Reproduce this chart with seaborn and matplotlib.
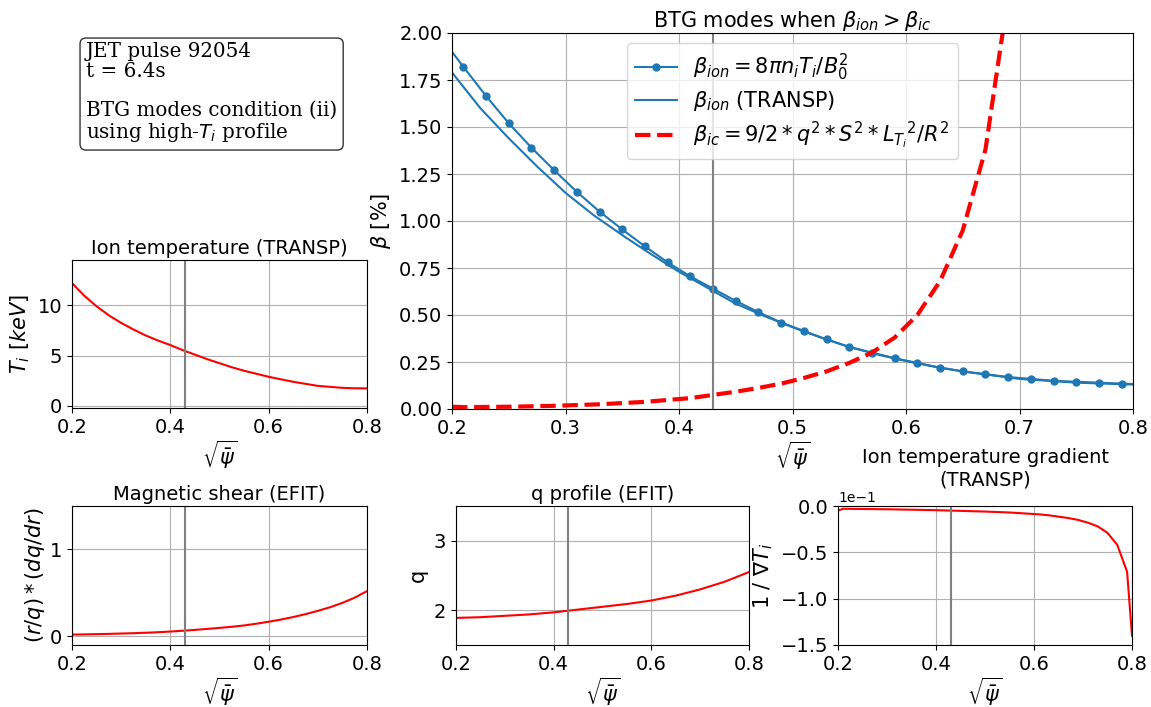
import numpy as np
import pandas as pd
import matplotlib
matplotlib.use("Agg")
import matplotlib.pyplot as plt
import seaborn as sns

plt.rcParams['font.size'] = 14
plt.rcParams['axes.titlesize'] = 14
plt.rcParams['axes.labelsize'] = 15
plt.rcParams['legend.fontsize'] = 15

# beta_ion from 8*pi*n*T/B0^2 (markers on the inner points)
beta_x = [0.20, 0.21, 0.23, 0.25, 0.27, 0.29, 0.31, 0.33, 0.35, 0.37, 0.39, 0.41,
          0.43, 0.45, 0.47, 0.49, 0.51, 0.53, 0.55, 0.57, 0.59, 0.61, 0.63, 0.65,
          0.67, 0.69, 0.71, 0.73, 0.75, 0.77, 0.79, 0.80]
beta_ion = [1.90, 1.82, 1.665, 1.52, 1.39, 1.27, 1.155, 1.05, 0.955, 0.865, 0.78, 0.705,
            0.64, 0.575, 0.515, 0.46, 0.415, 0.37, 0.33, 0.30, 0.27, 0.245, 0.22, 0.20,
            0.185, 0.17, 0.16, 0.15, 0.145, 0.14, 0.135, 0.133]

# beta_ion from TRANSP
transp_x = [0.200, 0.225, 0.250, 0.275, 0.300, 0.325, 0.350, 0.375, 0.400, 0.425, 0.450,
            0.475, 0.500, 0.525, 0.550, 0.575, 0.600, 0.625, 0.650, 0.675, 0.700, 0.725,
            0.750, 0.775, 0.800]
beta_transp = [1.79, 1.60, 1.44, 1.29, 1.15, 1.03, 0.925, 0.825, 0.73, 0.645, 0.56,
               0.495, 0.435, 0.38, 0.33, 0.29, 0.255, 0.225, 0.20, 0.18, 0.16, 0.15,
               0.14, 0.135, 0.13]

# critical beta
bic_x = [0.20, 0.21, 0.25, 0.29, 0.33, 0.37, 0.41, 0.45, 0.47, 0.49, 0.51, 0.53, 0.55,
         0.57, 0.59, 0.61, 0.63, 0.65, 0.67, 0.69]
beta_ic = [0.012, 0.010, 0.012, 0.017, 0.025, 0.038, 0.058, 0.092, 0.112, 0.135, 0.165,
           0.20, 0.245, 0.30, 0.38, 0.50, 0.68, 0.95, 1.38, 2.20]

# profiles (EFIT / TRANSP)
prof_x = [0.200, 0.225, 0.250, 0.275, 0.300, 0.325, 0.350, 0.375, 0.400, 0.425, 0.450,
          0.475, 0.500, 0.525, 0.550, 0.575, 0.600, 0.625, 0.650, 0.675, 0.700, 0.725,
          0.750, 0.775, 0.800]
ti_kev = [12.2, 10.95, 9.9, 9.0, 8.25, 7.6, 7.0, 6.5, 6.05, 5.55, 5.1, 4.65, 4.25,
          3.85, 3.5, 3.2, 2.9, 2.65, 2.4, 2.2, 2.0, 1.9, 1.8, 1.76, 1.75]
shear = [0.020, 0.022, 0.025, 0.028, 0.032, 0.036, 0.041, 0.047, 0.055, 0.064, 0.074,
         0.085, 0.097, 0.110, 0.125, 0.145, 0.168, 0.193, 0.222, 0.255, 0.293, 0.335,
         0.385, 0.445, 0.520]
q_prof = [1.89, 1.895, 1.90, 1.91, 1.92, 1.93, 1.94, 1.955, 1.97, 1.99, 2.01, 2.03,
          2.05, 2.07, 2.09, 2.115, 2.14, 2.175, 2.21, 2.255, 2.30, 2.355, 2.41, 2.48, 2.55]

grad_x = [0.20, 0.21, 0.30, 0.40, 0.50, 0.55, 0.61, 0.63, 0.65, 0.67, 0.69, 0.71,
          0.73, 0.75, 0.77, 0.79, 0.80]
inv_grad = [-0.005, -0.003, -0.0035, -0.0045, -0.006, -0.007, -0.009, -0.010, -0.0115,
            -0.013, -0.015, -0.018, -0.022, -0.029, -0.042, -0.071, -0.140]

rho_line = 0.43
xlab = r'$\sqrt{\bar{\psi}}$'

fig = plt.figure(figsize=(11.51, 7.07), dpi=100)
W, H = 1151, 707

def make_ax(left, top, right, bottom):
    return fig.add_axes([left / W, 1 - bottom / H, (right - left) / W, (bottom - top) / H])

ax_main = make_ax(452, 33, 1133, 409)
ax_ti = make_ax(72, 260, 367, 408)
ax_s = make_ax(72, 506, 367, 645)
ax_q = make_ax(456, 506, 749, 645)
ax_g = make_ax(838, 506, 1132, 645)

# main plot
df_b = pd.DataFrame({'x': beta_x, 'b': beta_ion})
sns.lineplot(data=df_b, x='x', y='b', ax=ax_main, color='#1f77b4', lw=1.5, marker='o',
             markersize=6, markeredgewidth=0, markevery=list(range(1, len(beta_x) - 1)),
             label=r'$\beta_{ion} = 8\pi n_i T_i / B_0^2$')
df_t = pd.DataFrame({'x': transp_x, 'b': beta_transp})
sns.lineplot(data=df_t, x='x', y='b', ax=ax_main, color='#1f77b4', lw=1.5,
             label=r'$\beta_{ion}$ (TRANSP)')
df_c = pd.DataFrame({'x': bic_x, 'b': beta_ic})
sns.lineplot(data=df_c, x='x', y='b', ax=ax_main, color='red', lw=3, linestyle='--',
             label=r'$\beta_{ic} = 9/2 * q^2 * S^2 * {L_{T_i}}^2 / R^2$')
ax_main.axvline(rho_line, color='grey', lw=1.5)
ax_main.set_xlim(0.2, 0.8)
ax_main.set_ylim(0, 2.0)
ax_main.set_xticks(np.arange(0.2, 0.81, 0.1))
ax_main.set_yticks(np.arange(0, 2.01, 0.25))
ax_main.set_title(r'BTG modes when $\beta_{ion} > \beta_{ic}$', fontsize=15, pad=3)
ax_main.set_xlabel(xlab, labelpad=1)
ax_main.set_ylabel(r'$\beta$ [%]')
ax_main.grid(True)
ax_main.legend(loc='upper center', labelspacing=0.3)

# small profile plots
def profile(ax, x, y, title, ylabel, ylim, yticks):
    sns.lineplot(x=x, y=y, ax=ax, color='red', lw=1.5)
    ax.axvline(rho_line, color='grey', lw=1.5)
    ax.set_xlim(0.2, 0.8)
    ax.set_ylim(*ylim)
    ax.set_xticks([0.2, 0.4, 0.6, 0.8])
    ax.set_yticks(yticks)
    ax.set_title(title, pad=4)
    ax.set_xlabel(xlab, labelpad=1)
    ax.set_ylabel(ylabel)
    ax.grid(True)

profile(ax_ti, prof_x, ti_kev, 'Ion temperature (TRANSP)', r'$T_i$ [$keV$]', (-0.2, 14.5), [0, 5, 10])
profile(ax_s, prof_x, shear, 'Magnetic shear (EFIT)', r'$(r/q) * (dq/dr)$', (-0.1, 1.5), [0, 1])
profile(ax_q, prof_x, q_prof, 'q profile (EFIT)', 'q', (1.5, 3.5), [2, 3])
profile(ax_g, grad_x, inv_grad, 'Ion temperature gradient\n(TRANSP)', r'1 / $\nabla T_i$',
        (-0.15, 0.0), [-0.15, -0.10, -0.05, 0.0])
ax_g.ticklabel_format(axis='y', style='sci', scilimits=(0, 0))
ax_g.yaxis.get_offset_text().set_fontsize(10)
ax_s.yaxis.labelpad = 2

# info box
fig.text(86 / W, 1 - 42 / H,
         'JET pulse 92054\nt = 6.4s\n\nBTG modes condition (ii)\nusing high-$T_i$ profile',
         family='DejaVu Serif', fontsize=14.3, va='top', ha='left', linespacing=1.05,
         bbox=dict(boxstyle='round,pad=0.3', facecolor='white', edgecolor='black', alpha=0.8))

fig.savefig('out.png', dpi=100)
